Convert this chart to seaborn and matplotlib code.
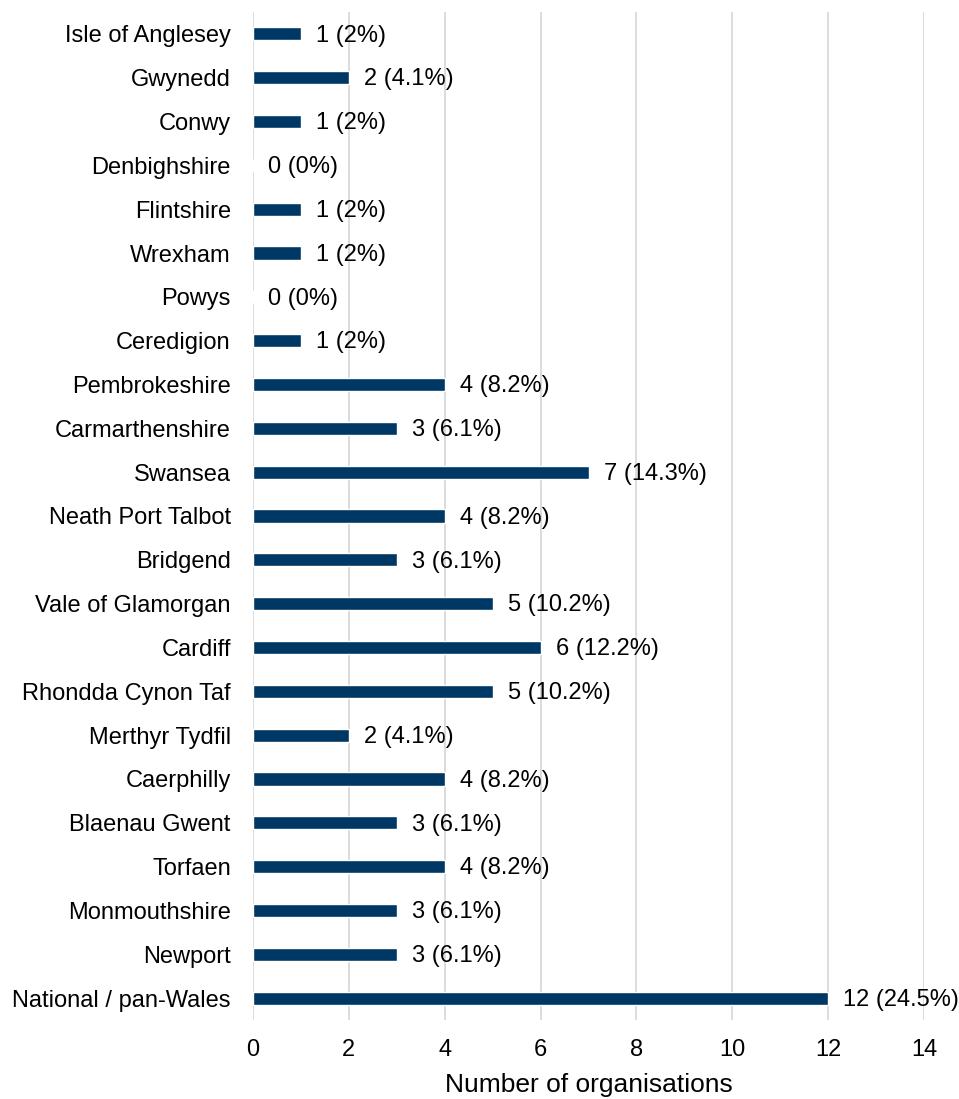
import matplotlib
matplotlib.use("Agg")
import matplotlib.pyplot as plt
import seaborn as sns
import pandas as pd

areas = ["Isle of Anglesey", "Gwynedd", "Conwy", "Denbighshire", "Flintshire", "Wrexham",
         "Powys", "Ceredigion", "Pembrokeshire", "Carmarthenshire", "Swansea",
         "Neath Port Talbot", "Bridgend", "Vale of Glamorgan", "Cardiff",
         "Rhondda Cynon Taf", "Merthyr Tydfil", "Caerphilly", "Blaenau Gwent",
         "Torfaen", "Monmouthshire", "Newport", "National / pan-Wales"]
counts = [1, 2, 1, 0, 1, 1, 0, 1, 4, 3, 7, 4, 3, 5, 6, 5, 2, 4, 3, 4, 3, 3, 12]
percents = ["2%", "4.1%", "2%", "0%", "2%", "2%", "0%", "2%", "8.2%", "6.1%", "14.3%",
            "8.2%", "6.1%", "10.2%", "12.2%", "10.2%", "4.1%", "8.2%", "6.1%", "8.2%",
            "6.1%", "6.1%", "24.5%"]
x_ticks = [0, 2, 4, 6, 8, 10, 12, 14]

sns.set_theme(style="white")
plt.rcParams["font.family"] = ["Liberation Sans", "DejaVu Sans"]

df = pd.DataFrame({"area": areas, "count": counts})

fig = plt.figure(figsize=(9.59, 10.99), dpi=100)
ax = fig.add_axes([253/959, 1 - 1020/1099, (924 - 253)/959, (1020 - 12)/1099])

sns.barplot(data=df, y="area", x="count", orient="h", color="#003865",
            width=0.3, saturation=1, ax=ax, zorder=3)

for i, (c, p) in enumerate(zip(counts, percents)):
    ax.text(c + 0.32, i + 0.04, f"{c} ({p})", va="center", ha="left", fontsize=17, color="#000000")

ax.set_xlim(0, 14)
ax.set_ylim(22.5, -0.5)
ax.set_xticks(x_ticks)
ax.set_xticklabels([str(t) for t in x_ticks], fontsize=17)
ax.tick_params(axis="y", labelsize=17, length=0, pad=16)
ax.tick_params(axis="x", length=0, pad=14)
ax.grid(axis="x", color="#d9d9d9", linewidth=1.3, zorder=0)
ax.set_axisbelow(True)
for s in ax.spines.values():
    s.set_visible(False)
ax.set_ylabel("")
ax.set_xlabel("Number of organisations", fontsize=19, labelpad=8, color="#000000")
for lbl in ax.get_yticklabels():
    lbl.set_color("#000000")
    lbl.set_verticalalignment("center_baseline")
for lbl in ax.get_xticklabels():
    lbl.set_color("#000000")

fig.savefig("out.png", dpi=100)
